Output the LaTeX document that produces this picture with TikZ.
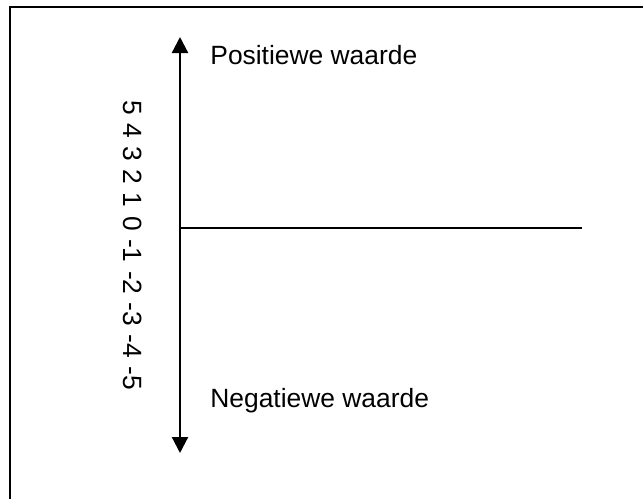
\documentclass[tikz,border=0pt]{standalone}
\usepackage{fontspec}
\setmainfont{Liberation Sans}
\usepackage{tikz}
\usetikzlibrary{arrows.meta,positioning}

\begin{document}
\begin{tikzpicture}[
  x=0.5pt, y=-0.5pt,
  font=\fontsize{13.2}{16}\selectfont,
  >={Triangle[length=8pt,width=8pt]},
  % Styles
  axis/.style={line width=1.1pt},
  frame/.style={line width=1.1pt},
  caption/.style={anchor=base west, inner sep=0pt},
  scalelabel/.style={anchor=base west, inner sep=0pt, rotate=-90}
]
\useasboundingbox (0,0) rectangle (643,499);

% ── Frame (only top and left edge in view) ───────────────────────────────────
\coordinate (fr) at (643,7);
\coordinate (fc) at (10,7);
\coordinate (fb) at (10,499);
\draw[frame] (fr) -- (fc) -- (fb);

% ── Axes ─────────────────────────────────────────────────────────────────────
\coordinate (top)    at (180,37);
\coordinate (bottom) at (180,453);
\coordinate (origin) at (180,228);
\coordinate (xend)   at (582,228);

\draw[axis, <->] (bottom) -- (top);
\draw[axis] (origin) -- (xend);

% ── Labels ───────────────────────────────────────────────────────────────────
\node[caption] (pos) at (210,64)  {Positiewe waarde};
\node[caption] (neg) at (210,407) {Negatiewe waarde};

% scale, read top to bottom
\node[scalelabel] (scale) at (123,100)
  {\spaceskip=0.32em 5 4 3 2 1 0 -1 -2 -3 -4 -5};

\end{tikzpicture}
\end{document}
